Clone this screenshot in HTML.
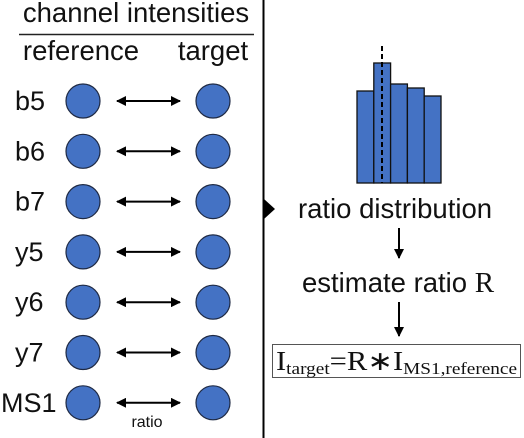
<!DOCTYPE html>
<html><head><meta charset="utf-8"><style>
html,body{margin:0;padding:0;background:#fff;}
svg{display:block;font-family:"Liberation Sans",sans-serif;}
</style></head><body>
<svg width="524" height="438" viewBox="0 0 524 438" xmlns="http://www.w3.org/2000/svg">
<defs>
<marker id="ah" viewBox="0 0 10 10" refX="9" refY="5" markerWidth="5" markerHeight="5" orient="auto-start-reverse"><path d="M0,0 L10,5 L0,10 z" fill="#000"/></marker>
</defs>
<text x="136" y="22" font-size="27.5" text-anchor="middle" fill="#111">channel intensities</text>
<line x1="19" y1="34.5" x2="254" y2="34.5" stroke="#222" stroke-width="1.5"/>
<text x="81" y="60" font-size="27.5" text-anchor="middle" fill="#111">reference</text>
<text x="213" y="60" font-size="27.5" text-anchor="middle" fill="#111">target</text>
<g id="rows"></g>
<text x="147" y="427" font-size="16" text-anchor="middle" fill="#111">ratio</text>
<line x1="263.5" y1="0" x2="263.5" y2="438" stroke="#000" stroke-width="2"/>
<path d="M264,199 L275,209 L264,219 z" fill="#000"/>
<g id="hist"></g>
<text x="395" y="218" font-size="27.5" text-anchor="middle" fill="#111">ratio distribution</text>
<line x1="399" y1="228" x2="399" y2="258" stroke="#000" stroke-width="2" marker-end="url(#ah)"/>
<text x="302" y="292" font-size="27.5" fill="#111">estimate ratio <tspan font-family="Liberation Serif,serif" font-size="29">R</tspan></text>
<line x1="399" y1="302" x2="399" y2="336" stroke="#000" stroke-width="2" marker-end="url(#ah)"/>
<rect x="272.5" y="344.5" width="248" height="33" fill="#fff" stroke="#555" stroke-width="1"/>
<text x="276" y="370" font-family="Liberation Serif,serif" font-size="27" fill="#111" textLength="241" lengthAdjust="spacingAndGlyphs">I<tspan font-size="17" dy="4">target</tspan><tspan dy="-4">=R∗I</tspan><tspan font-size="17" dy="4">MS1,reference</tspan></text>
</svg>
<script>
const rowLabels=["b5","b6","b7","y5","y6","y7","MS1"];
const binValues=[92,120,99,95,87];
const ns="http://www.w3.org/2000/svg";
const rows=document.getElementById("rows");
rowLabels.forEach((lab,i)=>{
  const y=101+50.3*i;
  const t=document.createElementNS(ns,"text");
  t.setAttribute("x",lab==="MS1"?1:15);t.setAttribute("y",y+9);t.setAttribute("font-size","27");t.setAttribute("fill","#111");
  t.textContent=lab;
  
  
  rows.appendChild(t);
  [83,213].forEach((cx,k)=>{
    const c=document.createElementNS(ns,"circle");
    c.setAttribute("cx",cx);c.setAttribute("cy",y);c.setAttribute("r","17");c.setAttribute("fill","#4472c4");c.setAttribute("stroke","#1f2a44");c.setAttribute("stroke-width","1.2");
    
    
    rows.appendChild(c);
  });
  const a=document.createElementNS(ns,"line");
  a.setAttribute("x1",117);a.setAttribute("x2",180);a.setAttribute("y1",y);a.setAttribute("y2",y);a.setAttribute("stroke","#000");a.setAttribute("stroke-width","2");
  a.setAttribute("marker-start","url(#ah)");a.setAttribute("marker-end","url(#ah)");
  
  
  rows.appendChild(a);
});
const hist=document.getElementById("hist");
const x0=357,bw=16.8,base=183,scale=1.0;
binValues.forEach((v,i)=>{
  const r=document.createElementNS(ns,"rect");
  r.setAttribute("x",x0+i*bw);r.setAttribute("y",base-v*scale);r.setAttribute("width",bw);r.setAttribute("height",v*scale);
  r.setAttribute("fill","#4472c4");r.setAttribute("stroke","#111");r.setAttribute("stroke-width","1.3");
  
  
  hist.appendChild(r);
});
const d=document.createElementNS(ns,"line");
d.setAttribute("x1",382);d.setAttribute("x2",382);d.setAttribute("y1",46);d.setAttribute("y2",base);
d.setAttribute("stroke","#000");d.setAttribute("stroke-width","2");d.setAttribute("stroke-dasharray","5,3");


hist.appendChild(d);
</script>
</body></html>
